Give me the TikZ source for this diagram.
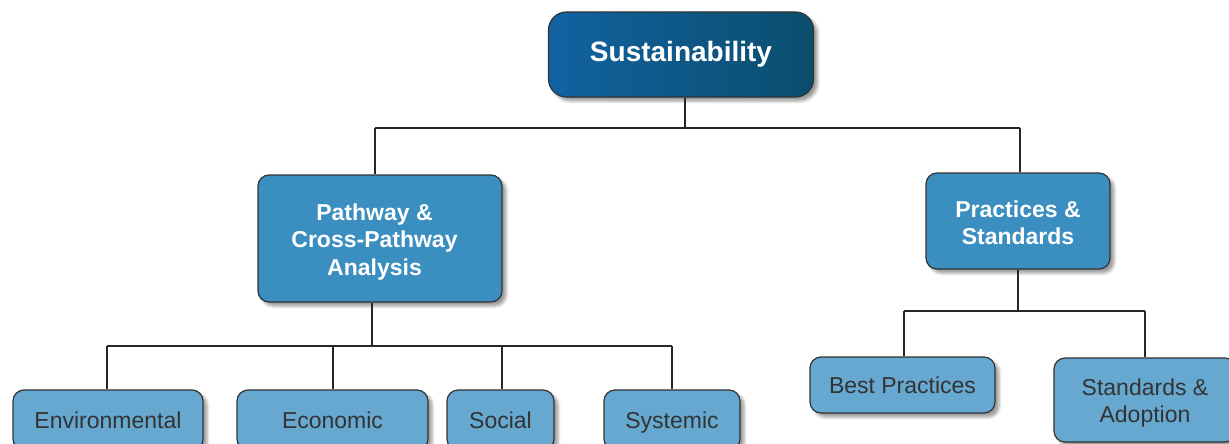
\documentclass[tikz,border=0pt]{standalone}
\usepackage{fontspec}
\setmainfont{Liberation Sans}
\usetikzlibrary{shadows,shadows.blur}
\definecolor{topL}{HTML}{1262A2}
\definecolor{topR}{HTML}{0A4E6C}
\definecolor{midfill}{HTML}{3A8EC0}
\definecolor{lowfill}{HTML}{66A8D0}
\definecolor{edgecol}{HTML}{333333}
\definecolor{lowtext}{HTML}{333333}
\begin{document}
\begin{tikzpicture}[x=1pt,y=-1pt,
 box/.style={draw=edgecol, line width=1.2pt, rounded corners=11pt,
   blur shadow={shadow xshift=4pt, shadow yshift=-4pt, shadow blur radius=3pt, shadow opacity=40},
   align=center, inner sep=0pt},
 topbox/.style={box, left color=topL, right color=topR, rounded corners=18pt, text=white,
   font=\fontsize{28}{33}\selectfont\bfseries},
 midbox/.style={box, fill=midfill, text=white, font=\fontsize{23}{27.5}\selectfont\bfseries},
 lowbox/.style={box, fill=lowfill, text=lowtext, font=\fontsize{23}{27.5}\selectfont},
 conn/.style={draw=black!85, line width=1.6pt}]
\useasboundingbox (0,0) rectangle (1229,444);
\clip (0,0) rectangle (1229,444);

\node[topbox, minimum width=265pt, minimum height=85pt] (sus) at (681,54.5) {Sustainability};
\node[midbox, minimum width=244pt, minimum height=127pt] (path) at (380,238.5)
  {\hspace*{-11pt}\rule{0pt}{23pt}Pathway \&\\\hspace*{-11pt}Cross-Pathway\\\hspace*{-11pt}Analysis};
\node[midbox, minimum width=184pt, minimum height=96pt] (prac) at (1018,221)
  {\rule{0pt}{20pt}Practices \&\\Standards};
\node[lowbox, minimum width=190pt, minimum height=60pt] (env) at (108,420) {Environmental};
\node[lowbox, minimum width=191pt, minimum height=60pt] (eco) at (332.5,420) {Economic};
\node[lowbox, minimum width=107pt, minimum height=60pt] (soc) at (500.5,420) {Social};
\node[lowbox, minimum width=136pt, minimum height=60pt, text depth=0pt] (sys) at (672,420) {Systemic};
\node[lowbox, minimum width=185pt, minimum height=56pt] (best) at (902.5,385) {Best Practices};
\node[lowbox, minimum width=182pt, minimum height=84pt] (std) at (1145,400)
  {\rule{0pt}{23pt}Standards \&\\Adoption};

\coordinate (j1) at (685,128);
\coordinate (a1) at (375,128);
\coordinate (a2) at (1020,128);
\draw[conn] (sus.south -| j1) -- (j1);
\draw[conn] (a1) -- (a2);
\draw[conn] (a1) -- (a1 |- path.north);
\draw[conn] (a2) -- (a2 |- prac.north);

\coordinate (j2) at (372,346);
\coordinate (b1) at (107,346);
\coordinate (b2) at (333,346);
\coordinate (b3) at (502,346);
\coordinate (b4) at (672,346);
\draw[conn] (path.south -| j2) -- (j2);
\draw[conn] (b1) -- (b4);
\draw[conn] (b1) -- (b1 |- env.north);
\draw[conn] (b2) -- (b2 |- eco.north);
\draw[conn] (b3) -- (b3 |- soc.north);
\draw[conn] (b4) -- (b4 |- sys.north);

\coordinate (j3) at (1018,311);
\coordinate (c1) at (904,311);
\coordinate (c2) at (1145,311);
\draw[conn] (prac.south -| j3) -- (j3);
\draw[conn] (c1) -- (c2);
\draw[conn] (c1) -- (c1 |- best.north);
\draw[conn] (c2) -- (c2 |- std.north);
\end{tikzpicture}
\end{document}
